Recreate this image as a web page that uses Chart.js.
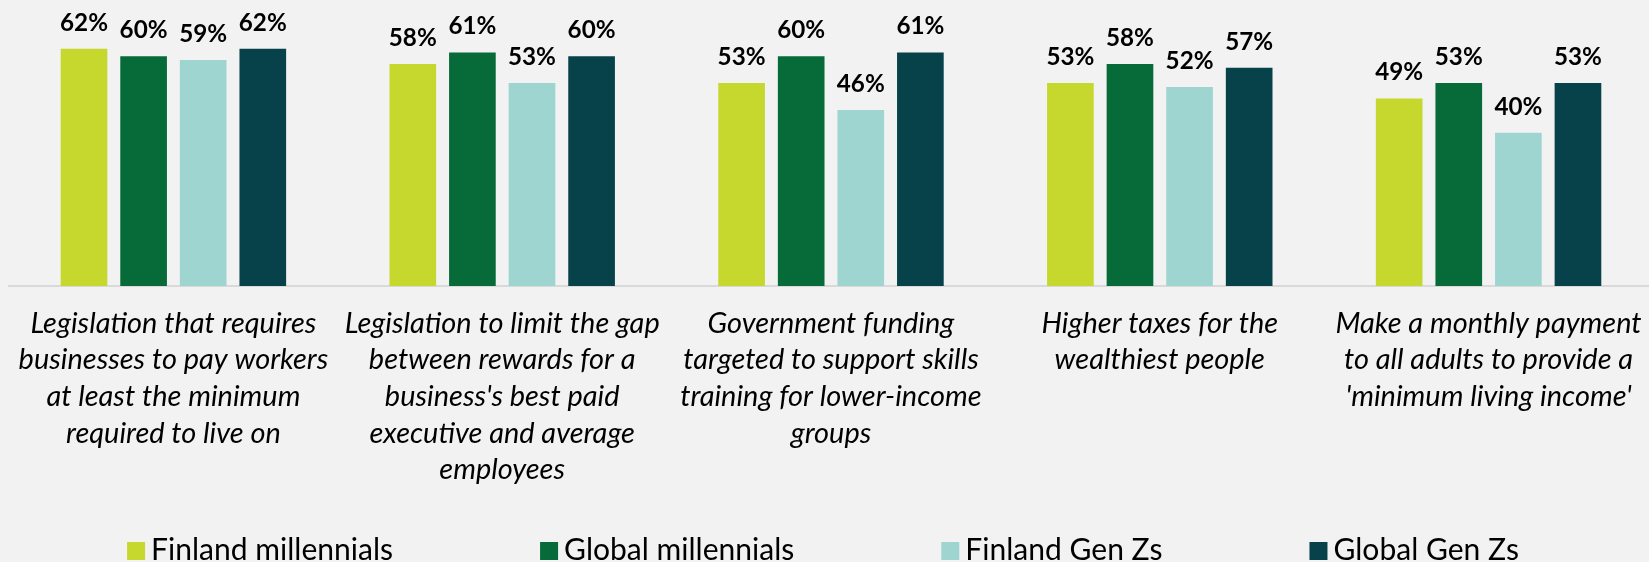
<!DOCTYPE html>
<html><head><meta charset="utf-8">
<script src="https://cdn.jsdelivr.net/npm/chart.js@4"></script>
<style>
html,body{margin:0;padding:0;background:#f2f2f2;overflow:hidden;}
#wrap{position:relative;width:1660px;height:562px;}
</style></head><body>
<div id="wrap"><canvas id="c"></canvas></div>
<script>
const categories = [
  ["Legislation that requires","businesses to pay workers","at least the minimum","required to live on"],
  ["Legislation to limit the gap","between rewards for a","business's best paid","executive and average","employees"],
  ["Government funding","targeted to support skills","training for lower-income","groups"],
  ["Higher taxes for the","wealthiest people"],
  ["Make a monthly payment","to all adults to provide a","'minimum living income'"]
];
const seriesNames = ["Finland millennials","Global millennials","Finland Gen Zs","Global Gen Zs"];
const finlandMillennials = [62,58,53,53,49];
const globalMillennials  = [60,61,60,58,53];
const finlandGenZs       = [59,53,46,52,40];
const globalGenZs        = [62,60,61,57,53];
const seriesData = [finlandMillennials, globalMillennials, finlandGenZs, globalGenZs];
const colors = ["#c6d82e","#066b38","#9fd5d1","#07414a"];

const FONT = "Lato, 'Open Sans', sans-serif";
function fitSize(text, style, weight, target){
  const c = document.createElement('canvas').getContext('2d');
  c.font = style + " " + weight + " 100px " + FONT;
  return 100*target/c.measureText(text).width;
}
const catSize = fitSize("Legislation that requires","italic","normal",286);
const valSize = fitSize("62%","normal","bold",48);
const legSize = fitSize("Finland millennials","normal","normal",242);

const valueLabels = {
  id:'valueLabels',
  afterDatasetsDraw(chart){
    const ctx = chart.ctx; ctx.save();
    ctx.font = "bold " + valSize + "px " + FONT;
    ctx.fillStyle = '#000'; ctx.textAlign = 'center'; ctx.textBaseline = 'alphabetic';
    chart.data.datasets.forEach((ds,i)=>{
      chart.getDatasetMeta(i).data.forEach((bar,j)=>{
        ctx.fillText(ds.data[j] + '%', bar.x, bar.y - 18);
      });
    });
    ctx.restore();
  }
};

const customLegend = {
  id:'customLegend',
  afterDraw(chart){
    const ctx = chart.ctx; ctx.save();
    ctx.font = legSize + "px " + FONT;
    ctx.textBaseline = 'alphabetic'; ctx.textAlign = 'left';
    const box = 18, gap = 6, spacing = 147;
    const items = chart.data.datasets.map(ds => ({label: ds.label, color: ds.backgroundColor, w: ctx.measureText(ds.label).width}));
    const total = items.reduce((s,it)=>s + box + gap + it.w, 0) + spacing*(items.length-1);
    let x = 823 - total/2;
    const boxTop = 542;
    items.forEach(it=>{
      ctx.fillStyle = it.color; ctx.fillRect(x, boxTop, box, box);
      ctx.fillStyle = '#000'; ctx.fillText(it.label, x + box + gap, 560);
      x += box + gap + it.w + spacing;
    });
    ctx.restore();
  }
};

new Chart(document.getElementById('c'), {
  type:'bar',
  data:{
    labels: categories,
    datasets: seriesNames.map((n,i)=>({
      label:n, data:seriesData[i], backgroundColor:colors[i], borderWidth:0,
      barPercentage:0.783, categoryPercentage:0.725
    }))
  },
  options:{
    responsive:true, maintainAspectRatio:false, animation:false,
    layout:{padding:{left:3,right:0,top:18,bottom:0}},
    plugins:{legend:{display:false}, tooltip:{enabled:false}},
    scales:{
      x:{
        grid:{display:false, drawTicks:false},
        border:{display:true, color:'#d9d9d9', width:2},
        ticks:{font:{family:FONT, size:catSize, style:'italic', lineHeight:36.7/catSize}, color:'#000', padding:19, autoSkip:false, maxRotation:0, minRotation:0},
        afterFit(s){ s.height = 276; }
      },
      y:{display:false, min:0, max:70}
    }
  },
  plugins:[valueLabels, customLegend]
});
</script>
</body></html>
